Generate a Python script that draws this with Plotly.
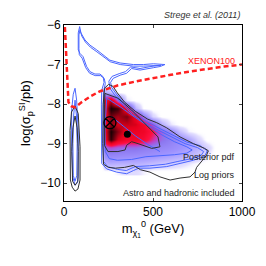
import plotly.graph_objects as go

# ---- posterior pdf grid ----
grid_x = [210, 230, 260, 300, 350, 400, 450, 500, 550, 600, 650, 700, 750, 800, 850]
grid_y = [-7.5, -7.7, -7.9, -8.1, -8.3, -8.5, -8.7, -8.9, -9.1, -9.3, -9.5, -9.7]
pdf_z = [
    # 210  230   260   300   350   400   450   500   550   600   650   700   750   800   850
    [0.0, 0.0, 0.0, 0.0, 0.0, 0.0, 0.0, 0.0, 0.0, 0.0, 0.0, 0.0, 0.0, 0.0, 0.0],          # -7.5
    [0.0, 0.15, 0.10, 0.0, 0.0, 0.0, 0.0, 0.0, 0.0, 0.0, 0.0, 0.0, 0.0, 0.0, 0.0],        # -7.7
    [0.0, 0.58, 0.75, 0.35, 0.03, 0.0, 0.0, 0.0, 0.0, 0.0, 0.0, 0.0, 0.0, 0.0, 0.0],      # -7.9
    [0.0, 0.62, 0.97, 0.92, 0.60, 0.12, 0.0, 0.0, 0.0, 0.0, 0.0, 0.0, 0.0, 0.0, 0.0],     # -8.1
    [0.0, 0.62, 0.85, 0.78, 0.84, 0.65, 0.28, 0.05, 0.0, 0.0, 0.0, 0.0, 0.0, 0.0, 0.0],   # -8.3
    [0.0, 0.62, 0.82, 0.72, 0.74, 0.72, 0.62, 0.40, 0.14, 0.03, 0.0, 0.0, 0.0, 0.0, 0.0], # -8.5
    [0.0, 0.64, 0.97, 0.82, 0.66, 0.66, 0.64, 0.52, 0.36, 0.25, 0.10, 0.02, 0.0, 0.0, 0.0],  # -8.7
    [0.0, 0.60, 0.94, 0.72, 0.62, 0.62, 0.58, 0.45, 0.34, 0.29, 0.24, 0.16, 0.06, 0.0, 0.0],  # -8.9
    [0.0, 0.35, 0.40, 0.36, 0.34, 0.34, 0.31, 0.28, 0.26, 0.24, 0.21, 0.18, 0.13, 0.06, 0.0],  # -9.1
    [0.0, 0.22, 0.26, 0.25, 0.24, 0.23, 0.22, 0.21, 0.19, 0.17, 0.15, 0.12, 0.08, 0.03, 0.0],  # -9.3
    [0.0, 0.12, 0.14, 0.13, 0.13, 0.13, 0.12, 0.10, 0.08, 0.07, 0.05, 0.03, 0.01, 0.0, 0.0],   # -9.5
    [0.0, 0.0, 0.0, 0.02, 0.04, 0.04, 0.02, 0.0, 0.0, 0.0, 0.0, 0.0, 0.0, 0.0, 0.0],            # -9.7
]

# ---- contour outlines ----
blue_outer_x = [88, 95, 118, 146, 184, 220, 258, 315, 390, 446, 502, 567, 540, 502, 427, 380, 352, 315, 276, 262,
                268, 290, 334, 390, 464, 539, 615, 689, 764, 805, 790, 727, 652, 577, 483, 420, 390, 352, 296, 240,
                212, 210, 210, 210, 212, 225, 220, 202, 174, 146, 127, 107, 90, 80, 80, 88]
blue_outer_y = [-6.04, -6.2, -6.38, -6.51, -6.63, -6.76, -6.89, -6.96, -7.0, -7.0, -6.98, -7.0, -7.05, -7.08, -7.14,
                -7.1, -7.22, -7.27, -7.35, -7.45, -7.58, -7.72, -7.98, -8.22, -8.44, -8.62, -8.8, -8.96, -9.05,
                -9.18, -9.32, -9.42, -9.5, -9.58, -9.62, -9.62, -9.68, -9.76, -9.72, -9.64, -9.5, -9.0, -8.5, -8.0,
                -7.65, -7.45, -7.31, -7.24, -7.24, -7.18, -7.05, -6.8, -6.72, -6.63, -6.2, -6.04]
blue_inner_x = [90, 100, 120, 148, 185, 222, 260, 316, 390, 446, 500, 545, 500, 427, 375, 345, 310, 270, 252, 258,
                282, 326, 384, 456, 530, 605, 680, 750, 785, 770, 715, 640, 570, 480, 400, 350, 300, 245, 222, 220,
                220, 220, 222, 232, 226, 205, 175, 144, 122, 102, 86, 84, 84, 90]
blue_inner_y = [-6.12, -6.28, -6.43, -6.56, -6.68, -6.81, -6.93, -7.0, -7.04, -7.04, -7.02, -7.02, -7.04, -7.1,
                -7.06, -7.18, -7.23, -7.3, -7.42, -7.6, -7.75, -8.0, -8.26, -8.48, -8.66, -8.84, -9.0, -9.1, -9.2,
                -9.3, -9.38, -9.45, -9.52, -9.56, -9.58, -9.68, -9.65, -9.58, -9.45, -9.0, -8.5, -8.0, -7.7, -7.48,
                -7.35, -7.28, -7.28, -7.22, -7.08, -6.84, -6.75, -6.6, -6.25, -6.12]
blue_core_x = [240, 320, 400, 480, 550, 620, 690, 720, 690, 620, 550, 460, 380, 300, 255, 232, 230, 234, 240]
blue_core_y = [-7.85, -8.08, -8.34, -8.58, -8.78, -8.95, -9.08, -9.16, -9.24, -9.28, -9.3, -9.33, -9.4, -9.42, -9.38,
               -9.2, -8.6, -8.1, -7.85]
blue_line_x = [268, 330, 400, 470, 539]
blue_line_y = [-8.32, -8.55, -8.8, -9.02, -9.2]

black_outer_x = [250, 275, 300, 340, 400, 470, 521, 577, 652, 727, 790, 811, 800, 764, 745, 736, 708, 652, 596, 539,
                 483, 430, 390, 340, 290, 250, 222, 218, 218, 220, 228, 250]
black_outer_y = [-7.5, -7.55, -7.72, -7.95, -8.18, -8.38, -8.47, -8.6, -8.83, -9.0, -9.12, -9.18, -9.3, -9.48, -9.6,
                 -9.72, -9.84, -9.87, -9.92, -9.84, -9.72, -9.66, -9.55, -9.6, -9.62, -9.6, -9.52, -9.0, -8.5, -8.0,
                 -7.6, -7.5]
black_inner_x = [230, 303, 380, 455, 528, 539, 493, 416, 380, 352, 343, 303, 247, 228, 226, 228, 230]
black_inner_y = [-7.73, -7.85, -8.15, -8.49, -8.83, -9.08, -9.12, -9.0, -8.95, -9.04, -9.16, -9.2, -9.2, -9.05,
                 -8.5, -8.0, -7.73]

isl_blue_out_x = [62, 71, 80, 80, 74, 62, 49, 43, 43, 52, 62]
isl_blue_out_y = [-7.6, -7.9, -8.66, -9.84, -10.0, -10.05, -9.84, -9.08, -8.15, -7.75, -7.6]
isl_blue_in_x = [62, 70, 74, 72, 62, 52, 50, 54, 62]
isl_blue_in_y = [-7.9, -8.3, -9.0, -9.8, -9.95, -9.8, -9.0, -8.3, -7.9]
isl_black_out_x = [62, 80, 90, 90, 78, 62, 46, 36, 34, 42, 62]
isl_black_out_y = [-8.05, -8.24, -9.08, -9.92, -10.15, -10.2, -10.1, -9.92, -8.66, -8.2, -8.05]
isl_black_in_x = [62, 74, 80, 78, 62, 48, 44, 50, 62]
isl_black_in_y = [-8.3, -8.6, -9.2, -9.95, -10.05, -9.95, -9.2, -8.6, -8.3]

# XENON100 limit
xenon_x = [5, 15, 25, 40, 62, 100, 150, 200, 250, 300, 400, 500, 600, 700, 800, 900, 1000]
xenon_y = [-6.05, -7.0, -7.95, -8.05, -8.08, -7.95, -7.8, -7.68, -7.6, -7.53, -7.43, -7.34, -7.26, -7.18, -7.11,
           -7.05, -7.0]

best_fit_x = [258]
best_fit_y = [-8.47]
mean_x = [356]
mean_y = [-8.76]

colorscale = [
    [0.0, "rgba(255,255,255,0)"],
    [0.03, "#e4e0ff"],
    [0.10, "#c4bcff"],
    [0.20, "#a094ff"],
    [0.32, "#8c78f0"],
    [0.42, "#c040c8"],
    [0.52, "#ff1040"],
    [0.70, "#e8001c"],
    [0.85, "#700010"],
    [1.0, "#000000"],
]

BLUE = "#4a66ff"
BLACK = "#303030"

fig = go.Figure()
fig.add_trace(go.Heatmap(x=grid_x, y=grid_y, z=pdf_z, zmin=0, zmax=1, zsmooth="best",
                         colorscale=colorscale, showscale=False, hoverinfo="skip"))


def line(xs, ys, color, width=1.0):
    fig.add_trace(go.Scatter(x=xs, y=ys, mode="lines", line=dict(color=color, width=width),
                             hoverinfo="skip", showlegend=False))


line(blue_outer_x, blue_outer_y, BLUE)
line(blue_inner_x, blue_inner_y, BLUE)
line(blue_core_x, blue_core_y, BLUE)
line(blue_line_x, blue_line_y, BLUE)
line(isl_blue_out_x, isl_blue_out_y, BLUE)
line(isl_blue_in_x, isl_blue_in_y, BLUE)
line(black_outer_x, black_outer_y, BLACK)
line(black_inner_x, black_inner_y, BLACK)
line(isl_black_out_x, isl_black_out_y, BLACK)
line(isl_black_in_x, isl_black_in_y, BLACK)

fig.add_trace(go.Scatter(x=xenon_x, y=xenon_y, mode="lines",
                         line=dict(color="#ff2020", width=2.5, dash="5px,3px"),
                         hoverinfo="skip", showlegend=False))
fig.add_trace(go.Scatter(x=best_fit_x, y=best_fit_y, mode="markers",
                         marker=dict(symbol="circle-x-open", size=12, color="black", line=dict(width=1.3, color="black")),
                         hoverinfo="skip", showlegend=False))
fig.add_trace(go.Scatter(x=mean_x, y=mean_y, mode="markers",
                         marker=dict(symbol="circle", size=7, color="black"),
                         hoverinfo="skip", showlegend=False))

FONT = "Liberation Sans, Arial, sans-serif"
fig.add_annotation(x=970, y=-6.9, xref="x", yref="y", text="XENON100", showarrow=False,
                   xanchor="right", yanchor="middle", font=dict(family=FONT, size=9, color="#ff2020"))
fig.add_annotation(x=972, y=-9.34, xref="x", yref="y", text="Posterior pdf", showarrow=False,
                   xanchor="right", yanchor="middle", font=dict(family=FONT, size=9, color="#222"))
fig.add_annotation(x=972, y=-9.8, xref="x", yref="y", text="Log priors", showarrow=False,
                   xanchor="right", yanchor="middle", font=dict(family=FONT, size=9, color="#222"))
fig.add_annotation(x=972, y=-10.25, xref="x", yref="y", text="Astro and hadronic included", showarrow=False,
                   xanchor="right", yanchor="middle", font=dict(family=FONT, size=9, color="#222"))
fig.add_annotation(x=1.0, y=1.057, xref="paper", yref="paper", text="<i>Strege et al. (2011)</i>", showarrow=False,
                   xanchor="right", yanchor="middle", font=dict(family=FONT, size=9, color="#333"))

# the page body has an 8 px margin, so the figure is 8 px smaller and margins are shifted
fig.update_layout(
    width=258, height=258,
    margin=dict(l=56, r=24, t=17, b=65, autoexpand=False),
    paper_bgcolor="white", plot_bgcolor="white",
    showlegend=False,
    font=dict(family=FONT, size=12, color="black"),
    xaxis=dict(range=[0, 1000], tickvals=[0, 500, 1000], ticks="inside", ticklen=3, mirror="ticks",
               showline=True, linecolor="black", linewidth=1, showgrid=False, zeroline=False, automargin=False,
               title=dict(text="m<sub>χ<sub>1</sub></sub><sup>0</sup> (GeV)", font=dict(size=13), standoff=3),
               tickfont=dict(size=12)),
    yaxis=dict(range=[-10.45, -6], tickvals=[-6, -7, -8, -9, -10], ticktext=["−6", "−7", "−8", "−9", "−10"],
               ticks="inside", ticklen=3, mirror="ticks", automargin=False,
               showline=True, linecolor="black", linewidth=1, showgrid=False, zeroline=False,
               title=dict(text="log(σ<sub>p</sub><sup>SI</sup>/pb)", font=dict(size=13), standoff=6),
               tickfont=dict(size=12)),
)

fig.write_html("out.html")
